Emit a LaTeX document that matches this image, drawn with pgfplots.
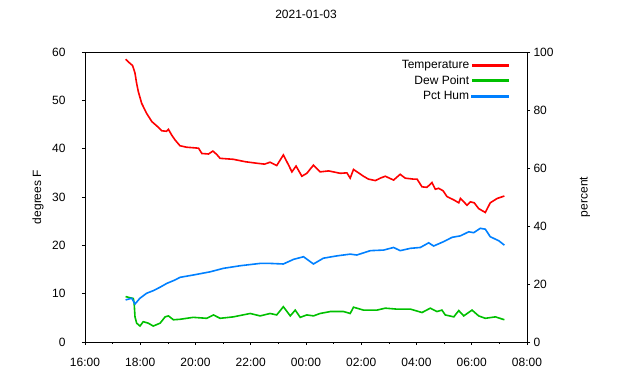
\documentclass[border=0pt]{standalone}
\usepackage{fontspec}
\setmainfont{Liberation Sans}
\usepackage{pgfplots}
\pgfplotsset{compat=1.18}
\definecolor{gpred}{RGB}{255,0,0}
\definecolor{gpgreen}{RGB}{0,192,0}
\definecolor{gpblue}{RGB}{0,128,255}
\begin{document}
\begin{tikzpicture}[font=\fontsize{12}{14}\selectfont]
\useasboundingbox (-85pt,-38pt) rectangle (555pt,342pt);
\pgfplotsset{
  common/.style={
    width=442pt, height=290pt, scale only axis,
    at={(0,0)}, anchor=south west,
    xmin=16, xmax=32,
    /pgf/number format/assume math mode=true,
    tick align=outside,
    major tick length=3pt, minor tick length=2pt,
    tick style={black, line width=0.6pt},
    axis line style={line width=0.8pt},
    every tick label/.append style={font=\fontsize{12}{14}\selectfont},
  }
}
\begin{axis}[common,
  ymin=0, ymax=60, ytick={0,10,...,60},
  xtick={16,18,...,32},
  xticklabels={16:00,18:00,20:00,22:00,00:00,02:00,04:00,06:00,08:00},
  minor x tick num=1,
  xtick pos=lower, ytick pos=left,
  xticklabel style={yshift=-10pt},
  yticklabel style={xshift=-13pt},
  ylabel={degrees F},
  ylabel style={at={(axis description cs:-0.106,0.5)}, anchor=center},
  title={2021-01-03},
  title style={at={(axis description cs:0.5,1.11)}, anchor=center},
]
\addplot[gpred, line width=1.6pt] coordinates {
(17.47,58.5)(17.6,57.8)(17.72,57.2)(17.78,56.2)(17.81,55.6)(17.87,53.5)(17.93,51.8)(18.05,49.4)(18.23,47.3)(18.42,45.6)(18.60,44.7)(18.78,43.7)(18.95,43.6)(19.02,44.0)(19.14,42.8)(19.26,41.8)(19.44,40.6)(19.68,40.3)(20.11,40.1)(20.23,39.0)(20.47,38.9)(20.63,39.5)(20.77,38.8)(20.89,38.0)(21.37,37.8)(21.8,37.3)(22.2,37.0)(22.5,36.8)(22.70,37.2)(22.94,36.5)(23.18,38.7)(23.37,36.6)(23.49,35.2)(23.64,36.4)(23.85,34.3)(24.03,34.9)(24.27,36.6)(24.51,35.2)(24.82,35.4)(25.24,34.9)(25.48,35.0)(25.60,33.9)(25.72,35.7)(25.90,35.0)(26.08,34.3)(26.26,33.7)(26.51,33.4)(26.69,33.9)(26.87,34.3)(27.17,33.5)(27.41,34.7)(27.59,33.9)(27.89,33.7)(28.02,33.7)(28.20,32.1)(28.38,32.0)(28.56,33.0)(28.68,31.6)(28.80,31.8)(28.96,31.3)(29.10,30.1)(29.35,29.4)(29.53,28.8)(29.59,29.7)(29.83,28.3)(29.95,29.0)(30.09,28.8)(30.25,27.6)(30.49,26.8)(30.67,28.8)(30.92,29.7)(31.18,30.2)
};
\addplot[gpgreen, line width=1.6pt] coordinates {
(17.47,9.4)(17.6,9.2)(17.75,9.0)(17.78,8.0)(17.81,5.2)(17.87,3.9)(17.99,3.3)(18.11,4.2)(18.29,3.9)(18.47,3.3)(18.72,3.9)(18.90,5.2)(19.02,5.4)(19.20,4.6)(19.44,4.7)(19.92,5.1)(20.41,4.9)(20.65,5.6)(20.89,4.9)(21.37,5.2)(21.98,5.9)(22.34,5.4)(22.70,5.9)(22.94,5.6)(23.18,7.3)(23.43,5.4)(23.61,6.6)(23.79,5.1)(24.03,5.6)(24.27,5.4)(24.51,5.9)(24.88,6.3)(25.36,6.3)(25.60,5.9)(25.72,7.2)(26.08,6.6)(26.57,6.6)(26.87,7.0)(27.29,6.8)(27.78,6.8)(28.20,6.1)(28.50,7.0)(28.74,6.3)(28.92,6.6)(29.04,5.6)(29.35,5.2)(29.53,6.5)(29.71,5.4)(30.01,6.6)(30.25,5.4)(30.49,4.9)(30.86,5.2)(31.18,4.6)
};
\end{axis}
\begin{axis}[common,
  ymin=0, ymax=100, ytick={0,20,...,100},
  axis y line*=right, axis x line=none,
  ylabel={percent},
  ylabel style={at={(axis description cs:1.131,0.5)}, anchor=center},
  legend style={draw=none, fill=none, at={(axis description cs:0.966,0.99)}, anchor=north east,
    nodes={inner ysep=2.9pt}, font=\fontsize{12}{14}\selectfont},
  legend cell align=right,
  legend plot pos=right,
  legend image code/.code={\fill[#1] (23pt,-1pt) rectangle (59pt,1pt);},
]
\addlegendimage{color=gpred}
\addlegendentry{Temperature}
\addlegendimage{color=gpgreen}
\addlegendentry{Dew Point}
\addplot[color=gpblue, line width=1.6pt] coordinates {
(17.47,14.5)(17.69,15.1)(17.81,13.1)(17.99,15.1)(18.23,16.8)(18.47,17.7)(18.72,18.9)(18.96,20.2)(19.26,21.4)(19.44,22.3)(19.92,23.1)(20.53,24.2)(21.01,25.4)(21.62,26.3)(22.34,27.1)(22.70,27.1)(23.18,26.9)(23.55,28.5)(23.91,29.4)(24.27,26.9)(24.63,28.9)(25.12,29.7)(25.60,30.3)(25.84,30.0)(26.33,31.5)(26.81,31.7)(27.17,32.6)(27.41,31.5)(27.78,32.3)(28.14,32.6)(28.44,34.2)(28.62,33.1)(28.98,34.6)(29.29,36.1)(29.59,36.6)(29.89,38.0)(30.07,37.7)(30.31,39.2)(30.49,38.9)(30.67,36.3)(30.98,34.9)(31.18,33.4)
};
\addlegendentry{Pct Hum}
\end{axis}
\end{tikzpicture}
\end{document}
